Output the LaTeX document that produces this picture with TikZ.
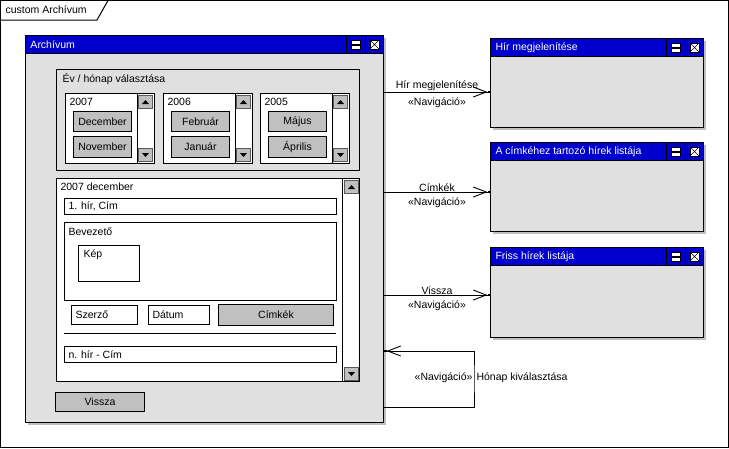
\documentclass[tikz,border=0pt]{standalone}
\usepackage{fontspec}
\setmainfont{Liberation Sans}
\usetikzlibrary{arrows.meta}

\definecolor{bleutitre}{RGB}{0,0,204}
\definecolor{grisfond}{RGB}{224,224,224}
\definecolor{grisbouton}{RGB}{192,192,192}

\tikzset{
  corps/.style={draw, fill=grisfond, anchor=north west, inner sep=0pt},
  barre/.style={draw, fill=bleutitre, anchor=north west, inner sep=0pt, minimum height=18pt},
  titre/.style={text=white, anchor=west, inner sep=0pt},
  icone/.style={draw, fill=white, line width=0.8pt, minimum size=9pt, inner sep=0pt},
  champ/.style={draw, fill=white, anchor=north west, inner sep=0pt},
  bouton/.style={draw, fill=grisbouton, anchor=north west, inner sep=0pt},
  texte/.style={anchor=west, inner sep=0pt},
  defil/.style={draw=gray!70!black, fill=grisbouton, anchor=north west, minimum width=14pt, minimum height=13pt, inner sep=0pt},
  ombre/.style={fill=grisbouton},
  nav/.style={-{Straight Barb[length=13pt,width=10pt,line width=0.9pt]Square[length=2.5pt,width=2.5pt]}},
}

% fenetre : nom, x, y, largeur, hauteur, titre
\newcommand{\fenetre}[6]{%
  \fill[ombre] (#2+3,#3+3) rectangle ++(#4,#5);
  \node[corps, minimum width=#4pt, minimum height=#5pt] (#1) at (#2,#3) {};
  \node[barre, minimum width=#4pt] (#1-t) at (#2,#3) {};
  \node[titre] (#1-l) at ([xshift=5pt]#1-t.west) {#6};
  \draw ([xshift=-19pt]#1-t.north east) -- ([xshift=-19pt]#1-t.south east)
        ([xshift=-38pt]#1-t.north east) -- ([xshift=-38pt]#1-t.south east);
  \node[icone] (#1-min) at ([xshift=-28.5pt]#1-t.east) {};
  \draw[line width=2pt] (#1-min.west) -- (#1-min.east);
  \node[icone] (#1-x) at ([xshift=-9.5pt]#1-t.east) {};
  \draw[line width=0.6pt] (#1-x.north west) -- (#1-x.south east) (#1-x.north east) -- (#1-x.south west);
}

\begin{document}
\begin{tikzpicture}[x=1pt, y=-1pt, line width=1pt, font=\fontsize{10.5}{12}\selectfont]
  \useasboundingbox (0,0) rectangle (729,448);

  % cadre du diagramme
  \draw (0.5,0.5) rectangle (728,447);
  \draw (0.5,20) -- (97,20) -- (108,0.5);
  \node[texte] (cadre) at (5,10) {custom Archívum};

  \fenetre{arch}{25}{35}{358}{387}{Archívum}

  % choix de l'annee et du mois
  \node[corps, minimum width=303pt, minimum height=101pt] (choix) at (56,69) {};
  \node[texte] (choix-l) at (62,79) {Év / hónap választása};
  \foreach \x/\an/\ma/\mb in {65/2007/December/November, 163/2006/Február/Január, 260/2005/Május/Április}{
    \node[champ, minimum width=89pt, minimum height=70pt] (l\an) at (\x,93) {};
    \draw (\x+72,93) -- (\x+72,163);
    \node[texte] (a\an) at (\x+4,102) {\an};
    \node[bouton, minimum width=58pt, minimum height=20pt] (ma\an) at (\x+8,111) {\ma};
    \node[bouton, minimum width=58pt, minimum height=21pt] (mb\an) at (\x+8,136) {\mb};
    \node[defil] (h\an) at (\x+73,95) {};
    \node[defil] (b\an) at (\x+73,148) {};
    \fill (h\an.center) ++(-3.5,2) -- ++(7,0) -- ++(-3.5,-4) -- cycle;
    \fill (b\an.center) ++(-3.5,-2) -- ++(7,0) -- ++(-3.5,4) -- cycle;
  }

  % liste des nouvelles
  \node[champ, minimum width=303pt, minimum height=203pt] (liste) at (56,178) {};
  \draw (342.5,178) -- (342.5,381);
  \node[defil] (lh) at (344,180) {};
  \node[defil] (lb) at (344,367) {};
  \fill (lh.center) ++(-3.5,2) -- ++(7,0) -- ++(-3.5,-4) -- cycle;
  \fill (lb.center) ++(-3.5,-2) -- ++(7,0) -- ++(-3.5,4) -- cycle;
  \node[texte] (mois) at (60,187) {2007 december};
  \node[champ, minimum width=272pt, minimum height=16pt] (hir1) at (64,198) {};
  \node[texte] (hir1-l) at ([xshift=4pt]hir1.west) {1. hír, Cím};
  \node[champ, minimum width=272pt, minimum height=78pt] (bev) at (64,222) {};
  \node[texte] (bev-l) at (68,232) {Bevezető};
  \node[champ, minimum width=61pt, minimum height=36pt] (kep) at (78,245) {};
  \node[texte] (kep-l) at (83,255) {Kép};
  \node[champ, minimum width=66pt, minimum height=19pt] (szerzo) at (71,305) {};
  \node[texte] (szerzo-l) at ([xshift=4pt]szerzo.west) {Szerző};
  \node[champ, minimum width=61pt, minimum height=19pt] (datum) at (148,305) {};
  \node[texte] (datum-l) at ([xshift=4pt]datum.west) {Dátum};
  \node[bouton, minimum width=115pt, minimum height=21pt] (cimkek) at (218,304) {Címkék};
  \draw (64,333) -- (336,333);
  \node[champ, minimum width=272pt, minimum height=16pt] (hirn) at (64,346) {};
  \node[texte] (hirn-l) at ([xshift=4pt]hirn.west) {n. hír - Cím};
  \node[bouton, minimum width=89pt, minimum height=19pt] (vissza) at (55,392) {Vissza};

  % fenetres cibles
  \fenetre{hir}{490}{38}{213}{89}{Hír megjelenítése}
  \fenetre{cimke}{490}{142}{213}{89}{A címkéhez tartozó hírek listája}
  \fenetre{friss}{490}{247}{213}{90}{Friss hírek listája}

  % navigations
  \draw[nav] (arch.east |- 0,92) -- (hir.west |- 0,92)
    node[midway, above=-3pt] (n1) {Hír megjelenítése} node[midway, below=2pt] (s1) {«Navigáció»};
  \draw[nav] (arch.east |- 0,192) -- (cimke.west |- 0,192)
    node[midway, above=-3pt] (n2) {Címkék} node[midway, below=2pt] (s2) {«Navigáció»};
  \draw[nav] (arch.east |- 0,295) -- (friss.west |- 0,295)
    node[midway, above=-3pt] (n3) {Vissza} node[midway, below=2pt] (s3) {«Navigáció»};

  \coordinate (boucle) at (474,378);
  \draw[nav] (arch.east |- 0,407) -| (boucle) |- (arch.east |- 0,351);
  \node[anchor=east, inner sep=1pt] (s4) at (boucle) {«Navigáció»};
  \node[anchor=west, inner sep=2pt] (n4) at (boucle) {Hónap kiválasztása};
\end{tikzpicture}
\end{document}
